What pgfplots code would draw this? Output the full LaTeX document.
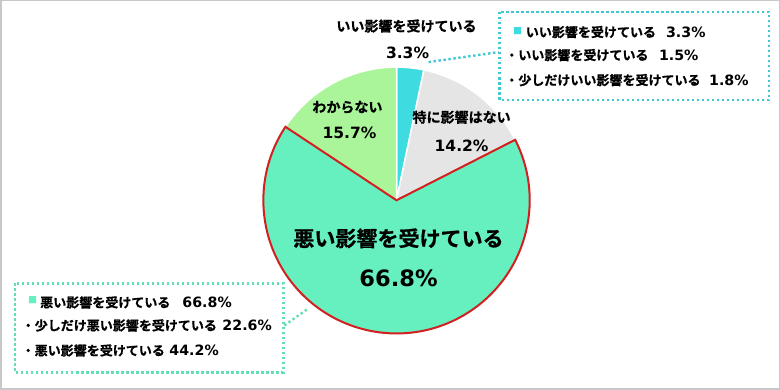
\documentclass[border=0pt]{standalone}
\usepackage{pgfplots}
\pgfplotsset{compat=1.18}
\usepackage{fontspec}
\setmainfont{DejaVu Sans}
\newfontfamily\jp{Noto Sans CJK JP}[UprightFont={* Bold},BoldFont={* Bold},BoldFeatures={FakeBold=0.8}]
\definecolor{cyanc}{RGB}{62,220,224}
\definecolor{grayc}{RGB}{229,229,229}
\definecolor{mintc}{RGB}{102,240,192}
\definecolor{lgreenc}{RGB}{170,245,154}
\definecolor{redc}{RGB}{210,32,32}
\definecolor{boxA}{RGB}{64,200,212}
\definecolor{boxB}{RGB}{100,222,180}
\definecolor{framec}{RGB}{200,200,200}
% pie values (percent)
\def\vA{3.3}   % いい影響を受けている
\def\vB{14.2}  % 特に影響はない
\def\vC{66.8}  % 悪い影響を受けている
\def\vD{15.7}  % わからない
\def\pcx{396}\def\pcy{190}\def\pieR{133}
\pgfmathsetmacro\aA{90}
\pgfmathsetmacro\aB{\aA-3.6*\vA}
\pgfmathsetmacro\aC{\aB-3.6*\vB}
\pgfmathsetmacro\aD{\aC-3.6*\vC}
\pgfmathsetmacro\aE{\aD-3.6*\vD}
\newcommand\jpl[1]{{\jp\bfseries\fontsize{14}{14}\selectfont #1}}
\newcommand\nml[1]{{\bfseries\fontsize{15.5}{15.5}\selectfont #1}}
\newcommand\jps[1]{{\jp\bfseries\fontsize{13}{13}\selectfont #1}}
\newcommand\nms[1]{{\bfseries\fontsize{14.2}{14.2}\selectfont #1}}
\tikzset{dotb/.style={line width=2.4pt,dash pattern=on 2.4pt off 2.6pt}}
\begin{document}
\begin{tikzpicture}
\begin{axis}[width=780pt,height=390pt,scale only axis,xmin=0,xmax=780,ymin=0,ymax=390,
  hide axis,clip=false]
% frame
\draw[framec,line width=1.5pt] (axis cs:0.75,389.25) rectangle (axis cs:778.25,1.75);
% slices
\addplot[draw=white,line width=1.5pt,fill=cyanc] coordinates {(\pcx,\pcy)} -- ++(\aA:\pieR pt) arc[start angle=\aA,end angle=\aB,radius=\pieR pt] -- cycle;
\addplot[draw=white,line width=1.5pt,fill=grayc] coordinates {(\pcx,\pcy)} -- ++(\aB:\pieR pt) arc[start angle=\aB,end angle=\aC,radius=\pieR pt] -- cycle;
\addplot[draw=white,line width=1.5pt,fill=lgreenc] coordinates {(\pcx,\pcy)} -- ++(\aD:\pieR pt) arc[start angle=\aD,end angle=\aE,radius=\pieR pt] -- cycle;
\addplot[draw=redc,line width=2pt,fill=mintc,line join=miter] coordinates {(\pcx,\pcy)} -- ++(\aC:\pieR pt) arc[start angle=\aC,end angle=\aD,radius=\pieR pt] -- cycle;
% slice labels
\node[inner sep=0] at (axis cs:406,364) {\jpl{いい影響を受けている}};
\node[inner sep=0] at (axis cs:407,337) {\nml{3.3\%}};
\node[inner sep=0] at (axis cs:347,283) {\jpl{わからない}};
\node[inner sep=0] at (axis cs:349,257) {\nml{15.7\%}};
\node[inner sep=0] at (axis cs:461,273) {\jpl{特に影響はない}};
\node[inner sep=0] at (axis cs:461,244) {\nml{14.2\%}};
\node[inner sep=0] at (axis cs:398,152) {{\jp\bfseries\fontsize{21}{21}\selectfont 悪い影響を受けている}};
\node[inner sep=0] at (axis cs:398,112) {{\bfseries\fontsize{22.5}{22.5}\selectfont 66.8\%}};
% box 1
\draw[boxA,dotb] (axis cs:499,378) rectangle (axis cs:768,290);
\draw[boxA,dotb] (axis cs:428,328) -- (axis cs:498,338);
\node[inner sep=0,text=cyanc] at (axis cs:517,358.5) {{\jp\fontsize{9}{9}\selectfont ■}};
\node[inner sep=0,anchor=west] at (axis cs:525,358) {\jps{いい影響を受けている}};
\node[inner sep=0,anchor=west] at (axis cs:665,358) {\nms{3.3\%}};
\node[inner sep=0,anchor=west] at (axis cs:504.5,335) {\jps{・いい影響を受けている}};
\node[inner sep=0,anchor=west] at (axis cs:658,335) {\nms{1.5\%}};
\node[inner sep=0,anchor=west] at (axis cs:504.5,310) {\jps{・少しだけいい影響を受けている}};
\node[inner sep=0,anchor=west] at (axis cs:708,310) {\nms{1.8\%}};
% box 2
\draw[boxB,dotb] (axis cs:15,107) rectangle (axis cs:283,18);
\draw[boxB,dotb] (axis cs:284,65) -- (axis cs:308,82);
\node[inner sep=0,text=mintc] at (axis cs:32.5,90) {{\jp\fontsize{9}{9}\selectfont ■}};
\node[inner sep=0,anchor=west] at (axis cs:40,88) {\jps{悪い影響を受けている}};
\node[inner sep=0,anchor=west] at (axis cs:182,88) {\nms{66.8\%}};
\node[inner sep=0,anchor=west] at (axis cs:21.5,65) {\jps{・少しだけ悪い影響を受けている}};
\node[inner sep=0,anchor=west] at (axis cs:222,65) {\nms{22.6\%}};
\node[inner sep=0,anchor=west] at (axis cs:21.5,40) {\jps{・悪い影響を受けている}};
\node[inner sep=0,anchor=west] at (axis cs:169,40) {\nms{44.2\%}};
\end{axis}
\end{tikzpicture}
\end{document}
